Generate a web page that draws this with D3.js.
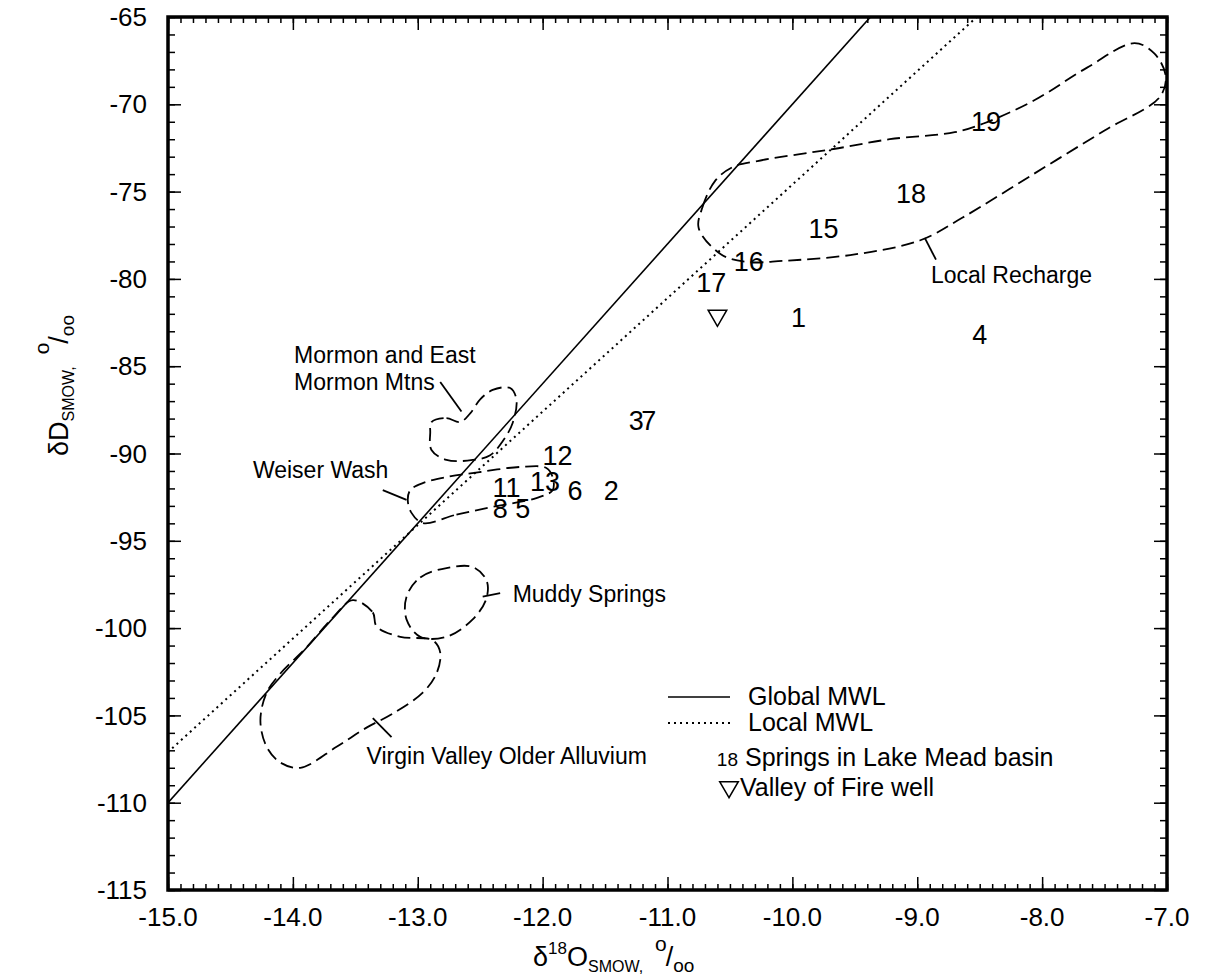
<!DOCTYPE html>
<html>
<head>
<meta charset="utf-8">
<script src="https://cdn.jsdelivr.net/npm/d3@7"></script>
<style>
  body { margin: 0; background: #fff; }
  text { font-family: "Liberation Sans", Arial, Helvetica, sans-serif; fill: #000; }
</style>
</head>
<body>
<script>
// tick labels
var xTickVals = [-15, -14, -13, -12, -11, -10, -9, -8, -7];
var yTickVals = [-65, -70, -75, -80, -85, -90, -95, -100, -105, -110, -115];

// springs in Lake Mead basin (label, d18O, dD)
var springIds  = ["19", "18", "15", "16", "17", "1", "4", "3", "7", "12", "13", "11", "6", "2", "8", "5"];
var springO18  = [-8.45, -9.05, -9.75, -10.35, -10.65, -9.95, -8.5, -11.25, -11.15, -11.88, -11.98, -12.29, -11.74, -11.45, -12.34, -12.16];
var springD    = [-71.0, -75.1, -77.1, -79.0, -80.2, -82.2, -83.2, -88.1, -88.1, -90.1, -91.6, -91.95, -92.1, -92.1, -93.15, -93.15];

// valley of fire well
var wellO18 = [-10.6];
var wellD   = [-82.1];

// meteoric water lines: dD = slope * d18O + intercept
var globalMWL = [8, 10];
var localMWL  = [6.5, -9.6];

// outlined fields [d18O, dD]
var localRecharge = [[-10.75,-77.1],[-10.72,-75.9],[-10.62,-74.4],[-10.48,-73.6],[-10.28,-73.25],[-9.94,-72.85],[-9.67,-72.56],
  [-9.22,-72.0],[-8.7,-71.6],[-8.47,-71.1],[-8.07,-69.8],[-7.64,-67.9],[-7.26,-66.5],[-7.1,-67.1],[-7.01,-68.4],[-7.06,-69.6],
  [-7.5,-71.5],[-8.07,-74.0],[-8.64,-76.5],[-8.98,-77.8],[-9.5,-78.6],[-10.08,-78.97],[-10.36,-79.03],[-10.57,-78.6]];
var muddySprings = [[-13.09,-98.2],[-12.98,-97.1],[-12.77,-96.56],[-12.56,-96.5],[-12.45,-97.25],[-12.45,-98.3],
  [-12.56,-99.5],[-12.77,-100.5],[-12.98,-100.5],[-13.09,-99.5]];
var virginValley = [[-13.52,-98.4],[-13.36,-99.1],[-13.33,-99.9],[-13.14,-100.5],[-12.88,-100.7],[-12.82,-101.4],[-12.85,-102.6],
  [-12.96,-103.7],[-13.2,-104.9],[-13.41,-105.7],[-13.65,-106.8],[-13.94,-108.0],[-14.1,-107.7],[-14.21,-106.8],[-14.26,-105.3],
  [-14.21,-103.7],[-14.1,-102.6],[-13.89,-101.1],[-13.68,-99.4]];
var mormonMtns = [[-12.89,-88.2],[-12.77,-87.97],[-12.66,-88.2],[-12.58,-87.7],[-12.5,-86.9],[-12.4,-86.36],[-12.26,-86.25],
  [-12.21,-86.9],[-12.24,-88.25],[-12.32,-89.3],[-12.42,-90.1],[-12.56,-90.37],[-12.77,-90.37],[-12.89,-89.8],[-12.9,-88.8]];
var weiserWash = [[-12.96,-93.98],[-12.69,-93.5],[-12.4,-93.06],[-12.05,-92.55],[-11.92,-92.1],[-11.92,-91.35],[-11.97,-90.83],
  [-12.18,-90.77],[-12.5,-91.06],[-12.77,-91.35],[-12.96,-91.7],[-13.06,-92.1],[-13.08,-92.66],[-13.05,-93.4]];

// field names, their anchor and the leader stroke
var fieldNames   = [["Mormon and East", "Mormon Mtns"], ["Weiser Wash"], ["Muddy Springs"], ["Virgin Valley Older Alluvium"], ["Local Recharge"]];
var fieldTextAt  = [[-13.99, -84.8], [-14.32, -91.4], [-12.24, -98.5], [-13.41, -107.8], [-8.89, -80.25]];
var fieldLeaders = [[[-12.82, -85.9], [-12.65, -87.6]], [[-13.28, -92.1], [-13.09, -92.66]], [[-12.48, -98.2], [-12.34, -98.0]],
  [[-13.36, -105.15], [-13.21, -106.25]], [[-8.94, -77.65], [-8.85, -78.9]]];

var W = 1205, H = 978;
var x = d3.scaleLinear().domain([-15, -7]).range([168, 1167]);
var y = d3.scaleLinear().domain([-115, -65]).range([890, 17]);

var svg = d3.select("body").append("svg").attr("width", W).attr("height", H);

svg.append("clipPath").attr("id", "plot")
  .append("rect").attr("x", x(-15)).attr("y", y(-65))
  .attr("width", x(-7) - x(-15)).attr("height", y(-115) - y(-65));

var fmt = function(v) { return d3.format(".1f")(v).replace("\u2212", "-"); };

// ticks, all pointing inward
function ticks(axisFn, vals, len, tx, ty) {
  svg.append("g").attr("transform", "translate(" + tx + "," + ty + ")")
    .call(axisFn.tickValues(vals).tickSize(-len).tickFormat(""))
    .call(function(g) {
      g.select(".domain").remove();
      g.selectAll("line").attr("stroke", "#000").attr("stroke-width", 1.5);
    });
}
var minorX = d3.range(-150, -69).map(function(d) { return d / 10; });
var minorY = d3.range(-115, -64);
ticks(d3.axisBottom(x), minorX, 6, 0, y(-115));
ticks(d3.axisBottom(x), xTickVals, 13, 0, y(-115));
ticks(d3.axisTop(x), minorX, 6, 0, y(-65));
ticks(d3.axisTop(x), xTickVals, 13, 0, y(-65));
ticks(d3.axisLeft(y), minorY, 7, x(-15), 0);
ticks(d3.axisLeft(y), yTickVals, 13, x(-15), 0);
ticks(d3.axisRight(y), minorY, 7, x(-7), 0);
ticks(d3.axisRight(y), yTickVals, 13, x(-7), 0);

// frame
svg.append("rect").attr("x", x(-15)).attr("y", y(-65))
  .attr("width", x(-7) - x(-15)).attr("height", y(-115) - y(-65))
  .attr("fill", "none").attr("stroke", "#000").attr("stroke-width", 3.5);

// tick labels
svg.append("g").selectAll("text").data(xTickVals).join("text")
  .attr("x", function(d) { return x(d); }).attr("y", 926)
  .attr("text-anchor", "middle").attr("font-size", 26).text(fmt);
svg.append("g").selectAll("text").data(yTickVals).join("text")
  .attr("x", 147).attr("y", function(d) { return y(d); }).attr("dy", "0.35em")
  .attr("text-anchor", "end").attr("font-size", 26).text(function(d) { return String(d); });

// axis titles
var xt = svg.append("text").attr("x", 533).attr("y", 966).attr("font-size", 27);
xt.append("tspan").text("δ");
xt.append("tspan").attr("font-size", 17).attr("dy", -12).text("18");
xt.append("tspan").attr("dy", 12).text("O");
xt.append("tspan").attr("font-size", 16).attr("dy", 6).text("SMOW,");
xt.append("tspan").attr("font-size", 21).attr("dx", 12).attr("dy", -21).text("o");
xt.append("tspan").attr("dy", 15).attr("dx", -1).text("/");
xt.append("tspan").attr("font-size", 19).attr("dy", 6).text("oo");

var yt = svg.append("text").attr("transform", "translate(68,456) rotate(-90)").attr("font-size", 27);
yt.append("tspan").text("δD");
yt.append("tspan").attr("font-size", 16).attr("dy", 6).text("SMOW,");
yt.append("tspan").attr("font-size", 21).attr("dx", 12).attr("dy", -25).text("o");
yt.append("tspan").attr("dy", 19).attr("dx", -1).text("/");
yt.append("tspan").attr("font-size", 19).attr("dy", 6).text("oo");

// meteoric water lines
var plot = svg.append("g").attr("clip-path", "url(#plot)");
var line = d3.line().x(function(d) { return x(d[0]); }).y(function(d) { return y(d[1]); });
function mwl(p) { return [-15.5, -6.5].map(function(v) { return [v, p[0] * v + p[1]]; }); }
plot.append("path").attr("d", line(mwl(globalMWL))).attr("fill", "none").attr("stroke", "#000").attr("stroke-width", 1.6);
plot.append("path").attr("d", line(mwl(localMWL))).attr("fill", "none").attr("stroke", "#000")
  .attr("stroke-width", 2).attr("stroke-dasharray", "2,4");

// fields
var loop = d3.line().curve(d3.curveCatmullRomClosed.alpha(0.5))
  .x(function(d) { return x(d[0]); }).y(function(d) { return y(d[1]); });
[localRecharge, muddySprings, virginValley, mormonMtns, weiserWash].forEach(function(f) {
  plot.append("path").attr("d", loop(f)).attr("fill", "none").attr("stroke", "#000")
    .attr("stroke-width", 1.8).attr("stroke-dasharray", "13,6");
});

// field leaders and names
fieldLeaders.forEach(function(l) {
  svg.append("path").attr("d", line(l)).attr("stroke", "#000").attr("stroke-width", 1.8);
});
fieldNames.forEach(function(names, i) {
  var t = svg.append("text").attr("x", x(fieldTextAt[i][0])).attr("y", y(fieldTextAt[i][1])).attr("font-size", 23);
  names.forEach(function(n, j) {
    t.append("tspan").attr("x", x(fieldTextAt[i][0])).attr("dy", j ? 27 : 0).text(n);
  });
});

// springs
svg.append("g").selectAll("text").data(springIds).join("text")
  .attr("x", function(d, i) { return x(springO18[i]); })
  .attr("y", function(d, i) { return y(springD[i]); })
  .attr("dy", "0.36em").attr("text-anchor", "middle").attr("font-size", 27)
  .text(function(d) { return d; });

// well
var tri = d3.symbol(d3.symbolTriangle, 150);
svg.append("g").selectAll("path").data(wellO18).join("path")
  .attr("d", tri)
  .attr("transform", function(d, i) { return "translate(" + x(d) + "," + y(wellD[i]) + ") rotate(180)"; })
  .attr("fill", "none").attr("stroke", "#000").attr("stroke-width", 1.5);

// legend
var lg = svg.append("g");
lg.append("line").attr("x1", 668).attr("x2", 730).attr("y1", 697).attr("y2", 697).attr("stroke", "#000").attr("stroke-width", 1.5);
lg.append("text").attr("x", 748).attr("y", 705).attr("font-size", 25).text("Global MWL");
lg.append("line").attr("x1", 668).attr("x2", 730).attr("y1", 723).attr("y2", 723).attr("stroke", "#000")
  .attr("stroke-width", 2).attr("stroke-dasharray", "2,4");
lg.append("text").attr("x", 748).attr("y", 731).attr("font-size", 25).text("Local MWL");
lg.append("text").attr("x", 738).attr("y", 766).attr("font-size", 19).attr("text-anchor", "end").text("18");
lg.append("text").attr("x", 745).attr("y", 766).attr("font-size", 25).text("Springs in Lake Mead basin");
lg.append("path").attr("d", tri).attr("transform", "translate(729,787) rotate(180)")
  .attr("fill", "none").attr("stroke", "#000").attr("stroke-width", 1.5);
lg.append("text").attr("x", 740).attr("y", 796).attr("font-size", 25).text("Valley of Fire well");
</script>
</body>
</html>
